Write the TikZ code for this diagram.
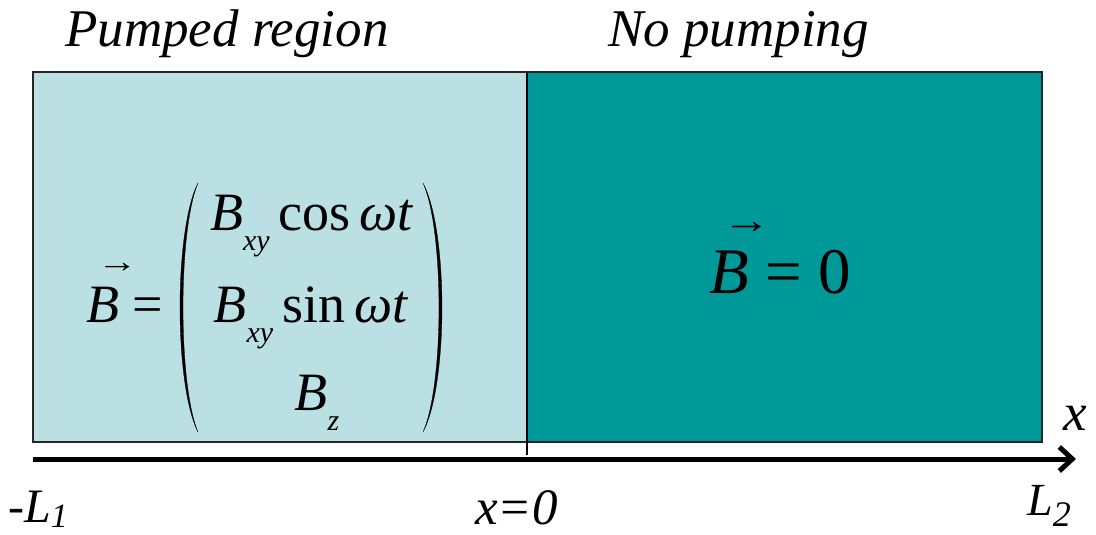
\documentclass[tikz,border=0pt]{standalone}
\usepackage{fontspec}
\setmainfont{Liberation Serif}[ItalicFont={Liberation Serif Italic},BoldFont={Liberation Serif Bold},BoldItalicFont={Liberation Serif Bold Italic}]
\usetikzlibrary{arrows.meta}
\definecolor{lightreg}{RGB}{187,224,227}
\definecolor{tealreg}{RGB}{0,153,153}
\newcommand{\vB}{\rlap{\raisebox{0.92em}{\hspace{0.2em}\scalebox{0.75}[0.6]{→}}}\textit{B}}
\newcommand{\subx}[1]{\raisebox{-0.38em}{\fontsize{30}{30}\selectfont\textit{#1}}}
\tikzset{
  region/.style={draw=black!85, line width=1.2pt},
  lbl/.style={inner sep=0pt, anchor=base west, font=\fontsize{53}{60}\selectfont\itshape},
  mat/.style={inner sep=0pt, anchor=base, font=\fontsize{54}{60}\selectfont},
  paren/.style={fill=black, draw=black, line width=0.3pt},
  axis/.style={line width=5pt, -{Straight Barb[length=13pt,width=24pt]}}
}
\begin{document}
\begin{tikzpicture}[x=1pt,y=-1pt]
\useasboundingbox (0,0) rectangle (1096,535);
% regions
\path[fill=lightreg] (33,72) rectangle (527,442);
\path[fill=tealreg] (527,72) rectangle (1042,442);
\draw[region] (33,72) rectangle (1042,442);
\coordinate (divtop) at (527,72);
\coordinate (divbot) at (527,455);
\draw[line width=1.2pt] (divtop) -- (divbot);
% axis
\coordinate (axL) at (33,459);
\coordinate (axR) at (1076,459);
\draw[axis] (axL) -- (axR);
% titles
\node[lbl] (tpump) at (65,47) {Pumped region};
\node[lbl] (tnop) at (608,47) {No pumping};
% matrix
\node[inner sep=0pt, anchor=base west, font=\fontsize{54}{60}\selectfont] (bvec) at (86,322) {\vB\ =};
\path[paren] (198,183) .. controls (174,230) and (174,385) .. (198,432)
   .. controls (178,385) and (178,230) .. (198,183) -- cycle;
\path[paren] (423,183) .. controls (448.3,230) and (448.3,385) .. (423,432)
   .. controls (444.3,385) and (444.3,230) .. (423,183) -- cycle;
\node[mat] (r1) at (312,230) {\textit{B}\subx{xy}\,cos\,\textit{ωt}};
\node[mat] (r2) at (311,322) {\textit{B}\subx{xy}\,sin\,\textit{ωt}};
\node[mat] (r3) at (317,410) {\textit{B}\subx{z}};
% right
\node[inner sep=0pt, anchor=base, font=\fontsize{65}{70}\selectfont] (bzero) at (780,293) {\vB\ = 0};
% axis labels
\node[lbl] (xl) at (1063,430) {x};
\node[inner sep=0pt, anchor=base west, font=\fontsize{46}{50}\selectfont\itshape] (L2) at (1027,515) {L\raisebox{-0.25em}{\fontsize{36}{36}\selectfont 2}};
\node[inner sep=0pt, anchor=base west, font=\fontsize{48}{50}\selectfont\itshape] (L1) at (8,522) {-L\raisebox{-0.12em}{\fontsize{34}{34}\selectfont 1}};
\node[inner sep=0pt, anchor=base west, font=\fontsize{51}{56}\selectfont\itshape] (x0) at (475,524) {x=0};
\end{tikzpicture}
\end{document}
